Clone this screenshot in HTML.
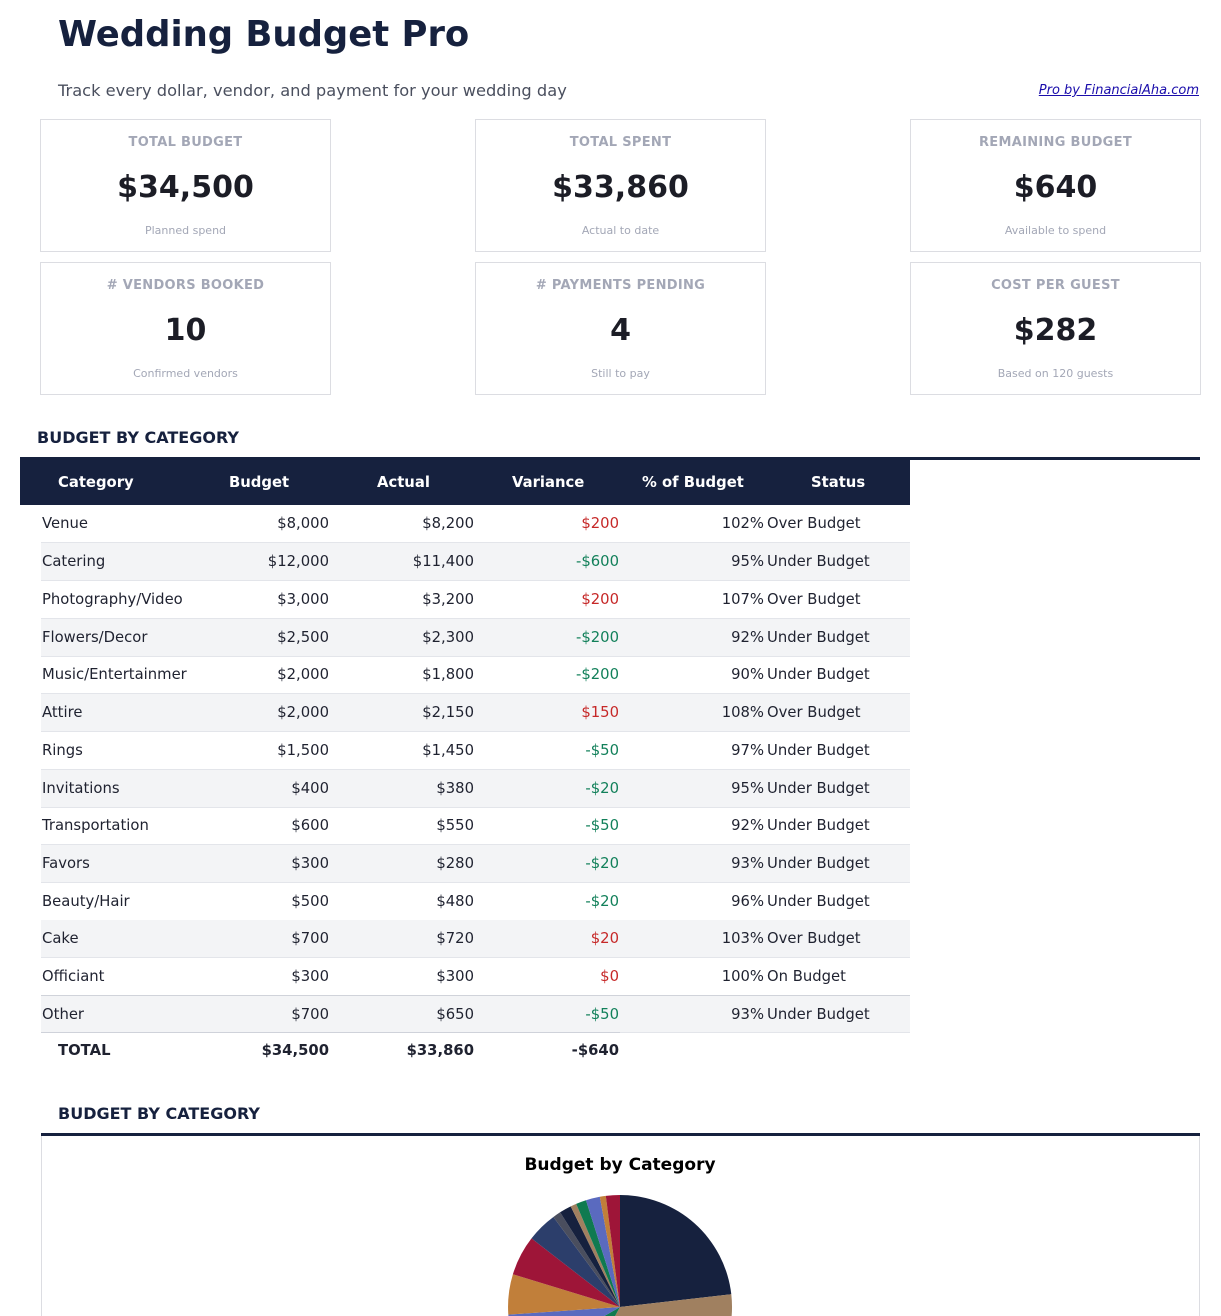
<!DOCTYPE html>
<html><head><meta charset="utf-8"><style>
*{margin:0;padding:0;box-sizing:border-box}
html,body{width:1221px;height:1316px;overflow:hidden}
body{background:#fff;font-family:"DejaVu Sans","Liberation Sans",sans-serif;color:#1f2230;position:relative}
.a{position:absolute;white-space:nowrap}
.card{position:absolute;width:291px;height:133px;border:1px solid #dcdde2;text-align:center}
.card .l{position:absolute;left:0;right:0;top:15px;font-size:13px;font-weight:bold;color:#a3a7b6;letter-spacing:.3px}
.card .v{position:absolute;left:0;right:0;top:50px;font-size:30px;font-weight:bold;color:#1c1d26}
.card .s{position:absolute;left:0;right:0;top:104px;font-size:11px;color:#a3a7b6}
.row{position:absolute;left:41px;width:869px;height:38px;border-bottom:1px solid #e3e5ea;font-size:14.8px}
.row.alt{background:#f3f4f6}
.row span{position:absolute;top:10px;white-space:nowrap}
.c0{left:1px}.c1{right:581px}.c2{right:436px}.c3{right:291px}.c4{right:146px}.c5{left:726px}
.r{color:#c62828}.g{color:#12805a}
.th{position:absolute;top:474px;color:#fff;font-weight:bold;font-size:14.8px}
.tt{position:absolute;top:1042px;font-size:14.8px;font-weight:bold}
</style></head><body>
<div class="a" style="left:58px;top:14px;font-size:35.4px;font-weight:bold;color:#16213e">Wedding Budget Pro</div>
<div class="a" style="left:58px;top:81px;font-size:16.25px;color:#4a4f5e">Track every dollar, vendor, and payment for your wedding day</div>
<div class="a" style="right:22px;top:83px;font-size:13px;font-style:italic;color:#1a0dab;text-decoration:underline">Pro by FinancialAha.com</div>

<div class="card" style="left:40px;top:119px"><div class="l">TOTAL BUDGET</div><div class="v">$34,500</div><div class="s">Planned spend</div></div>
<div class="card" style="left:475px;top:119px"><div class="l">TOTAL SPENT</div><div class="v">$33,860</div><div class="s">Actual to date</div></div>
<div class="card" style="left:910px;top:119px"><div class="l">REMAINING BUDGET</div><div class="v">$640</div><div class="s">Available to spend</div></div>
<div class="card" style="left:40px;top:262px"><div class="l"># VENDORS BOOKED</div><div class="v">10</div><div class="s">Confirmed vendors</div></div>
<div class="card" style="left:475px;top:262px"><div class="l"># PAYMENTS PENDING</div><div class="v">4</div><div class="s">Still to pay</div></div>
<div class="card" style="left:910px;top:262px"><div class="l">COST PER GUEST</div><div class="v">$282</div><div class="s">Based on 120 guests</div></div>

<div class="a" style="left:37px;top:428px;font-size:16px;font-weight:bold;color:#16213e">BUDGET BY CATEGORY</div>
<div class="a" style="left:20px;top:457px;width:1180px;height:3px;background:#16213e"></div>
<div class="a" style="left:20px;top:458px;width:890px;height:47px;background:#16213e"></div>
<div class="th" style="left:58px">Category</div>
<div class="th" style="left:229px">Budget</div>
<div class="th" style="left:377px">Actual</div>
<div class="th" style="left:512px">Variance</div>
<div class="th" style="left:642px">% of Budget</div>
<div class="th" style="left:811px">Status</div>

<div class="row" style="top:505px"><span class="c0">Venue</span><span class="c1">$8,000</span><span class="c2">$8,200</span><span class="c3 r">$200</span><span class="c4">102%</span><span class="c5">Over Budget</span></div>
<div class="row alt" style="top:543px"><span class="c0">Catering</span><span class="c1">$12,000</span><span class="c2">$11,400</span><span class="c3 g">-$600</span><span class="c4">95%</span><span class="c5">Under Budget</span></div>
<div class="row" style="top:581px"><span class="c0">Photography/Video</span><span class="c1">$3,000</span><span class="c2">$3,200</span><span class="c3 r">$200</span><span class="c4">107%</span><span class="c5">Over Budget</span></div>
<div class="row alt" style="top:619px"><span class="c0">Flowers/Decor</span><span class="c1">$2,500</span><span class="c2">$2,300</span><span class="c3 g">-$200</span><span class="c4">92%</span><span class="c5">Under Budget</span></div>
<div class="row" style="top:656px"><span class="c0">Music/Entertainmer</span><span class="c1">$2,000</span><span class="c2">$1,800</span><span class="c3 g">-$200</span><span class="c4">90%</span><span class="c5">Under Budget</span></div>
<div class="row alt" style="top:694px"><span class="c0">Attire</span><span class="c1">$2,000</span><span class="c2">$2,150</span><span class="c3 r">$150</span><span class="c4">108%</span><span class="c5">Over Budget</span></div>
<div class="row" style="top:732px"><span class="c0">Rings</span><span class="c1">$1,500</span><span class="c2">$1,450</span><span class="c3 g">-$50</span><span class="c4">97%</span><span class="c5">Under Budget</span></div>
<div class="row alt" style="top:770px"><span class="c0">Invitations</span><span class="c1">$400</span><span class="c2">$380</span><span class="c3 g">-$20</span><span class="c4">95%</span><span class="c5">Under Budget</span></div>
<div class="row" style="top:807px"><span class="c0">Transportation</span><span class="c1">$600</span><span class="c2">$550</span><span class="c3 g">-$50</span><span class="c4">92%</span><span class="c5">Under Budget</span></div>
<div class="row alt" style="top:845px"><span class="c0">Favors</span><span class="c1">$300</span><span class="c2">$280</span><span class="c3 g">-$20</span><span class="c4">93%</span><span class="c5">Under Budget</span></div>
<div class="row" style="top:883px"><span class="c0">Beauty/Hair</span><span class="c1">$500</span><span class="c2">$480</span><span class="c3 g">-$20</span><span class="c4">96%</span><span class="c5">Under Budget</span></div>
<div class="row alt" style="top:920px"><span class="c0">Cake</span><span class="c1">$700</span><span class="c2">$720</span><span class="c3 r">$20</span><span class="c4">103%</span><span class="c5">Over Budget</span></div>
<div class="row" style="top:958px"><span class="c0">Officiant</span><span class="c1">$300</span><span class="c2">$300</span><span class="c3 r">$0</span><span class="c4">100%</span><span class="c5">On Budget</span></div>
<div class="row alt" style="top:995px;border-top:1px solid #d0d3da"><span class="c0">Other</span><span class="c1">$700</span><span class="c2">$650</span><span class="c3 g">-$50</span><span class="c4">93%</span><span class="c5">Under Budget</span></div>
<div class="a" style="left:41px;top:1032px;width:579px;height:1px;background:#cfd2da"></div>
<div class="tt" style="left:58px">TOTAL</div>
<div class="tt" style="right:892px">$34,500</div>
<div class="tt" style="right:747px">$33,860</div>
<div class="tt" style="right:602px">-$640</div>

<div class="a" style="left:58px;top:1104px;font-size:16px;font-weight:bold;color:#16213e">BUDGET BY CATEGORY</div>
<div class="a" style="left:41px;top:1133px;width:1159px;height:3px;background:#16213e"></div>
<div class="a" style="left:41px;top:1136px;width:1159px;height:180px;border-left:1px solid #dcdde2;border-right:1px solid #dcdde2"></div>
<div class="a" style="left:0;width:1240px;text-align:center;top:1155px;font-size:17px;font-weight:bold;color:#000">Budget by Category</div>
<svg class="a" style="left:0;top:0" width="1221" height="1316" viewBox="0 0 1221 1316">
<g stroke="none">
<path d="M620 1307 L620 1195 A112 112 0 0 1 731.3 1294.3Z" fill="#16213e"/>
<path d="M620 1307 L731.3 1294.3 A112 112 0 0 1 566.2 1405.2Z" fill="#a08060"/>
<path d="M620 1307 L566.2 1405.2 A112 112 0 0 1 523 1363Z" fill="#0f7a50"/>
<path d="M620 1307 L523 1363 A112 112 0 0 1 508.3 1314.6Z" fill="#5a6abf"/>
<path d="M620 1307 L508.3 1314.6 A112 112 0 0 1 512.9 1274.3Z" fill="#c17f3a"/>
<path d="M620 1307 L512.9 1274.3 A112 112 0 0 1 531.5 1238.4Z" fill="#9e1538"/>
<path d="M620 1307 L531.5 1238.4 A112 112 0 0 1 553.4 1217Z" fill="#2c3e6b"/>
<path d="M620 1307 L553.4 1217 A112 112 0 0 1 560.1 1212.3Z" fill="#4a4e5e"/>
<path d="M620 1307 L560.1 1212.3 A112 112 0 0 1 570.7 1206.4Z" fill="#16213e"/>
<path d="M620 1307 L570.7 1206.4 A112 112 0 0 1 576.2 1203.9Z" fill="#a08060"/>
<path d="M620 1307 L576.2 1203.9 A112 112 0 0 1 586 1200.3Z" fill="#0f7a50"/>
<path d="M620 1307 L586 1200.3 A112 112 0 0 1 599.8 1196.8Z" fill="#5a6abf"/>
<path d="M620 1307 L599.8 1196.8 A112 112 0 0 1 605.8 1195.9Z" fill="#c17f3a"/>
<path d="M620 1307 L605.8 1195.9 A112 112 0 0 1 620 1195Z" fill="#9e1538"/>
</g>
</svg>
</body></html>
